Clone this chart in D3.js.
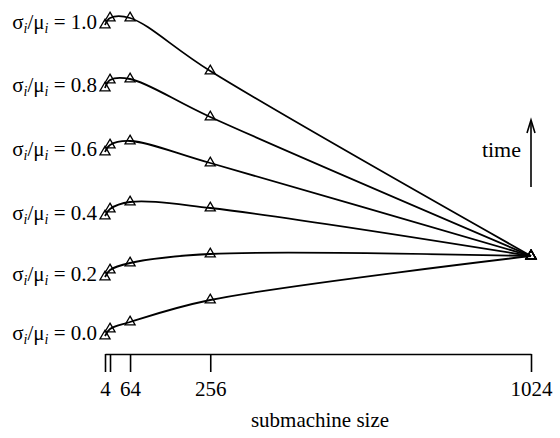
<!DOCTYPE html>
<html>
<head>
<meta charset="utf-8">
<script src="https://cdn.jsdelivr.net/npm/d3@7"></script>
<style>
  body { margin: 0; background: #fff; }
</style>
</head>
<body>
<div id="chart"></div>
<script>
// submachine sizes where the points sit
var sizes = [4, 16, 64, 256, 1024];
var tickValues = [4, 16, 64, 256, 1024];
var tickLabels = ["4", "", "64", "256", "1024"];

// sigma_i / mu_i for each curve
var ratios = ["1.0", "0.8", "0.6", "0.4", "0.2", "0.0"];

// time (arbitrary units), one array per curve
var time_10 = [3.25, 3.32, 3.32, 2.79, 0.94];
var time_08 = [2.62, 2.70, 2.71, 2.33, 0.94];
var time_06 = [1.98, 2.05, 2.09, 1.87, 0.94];
var time_04 = [1.34, 1.41, 1.48, 1.42, 0.94];
var time_02 = [0.73, 0.80, 0.87, 0.96, 0.94];
var time_00 = [0.14, 0.21, 0.28, 0.50, 0.94];
var allTimes = [time_10, time_08, time_06, time_04, time_02, time_00];

var width = 560, height = 438;
var serif = "Liberation Serif";

var svg = d3.select("#chart")
    .append("svg")
    .attr("width", width)
    .attr("height", height)
    .attr("font-family", serif);

var x = d3.scaleLinear()
    .domain([4, 1024])
    .range([105, 531]);

var y = d3.scaleLinear()
    .domain([0, 3.4])
    .range([350, 10]);

var axisY = 354;

// x axis
var xAxis = d3.axisBottom(x)
    .tickValues(tickValues)
    .tickSize(18)
    .tickSizeOuter(0)
    .tickPadding(9)
    .tickFormat(function (d, i) { return tickLabels[i]; });

var gx = svg.append("g")
    .attr("transform", "translate(0," + axisY + ")")
    .call(xAxis)
    .attr("font-family", serif)
    .attr("font-size", 21);
gx.select(".domain").attr("stroke", "#000").attr("stroke-width", 1.6);
gx.selectAll(".tick line").attr("stroke", "#000").attr("stroke-width", 1.6);
gx.selectAll(".tick text").attr("fill", "#000");

svg.append("text")
    .attr("x", 320)
    .attr("y", 427)
    .attr("font-family", serif)
    .attr("font-size", 21)
    .attr("text-anchor", "middle")
    .text("submachine size");

// curves
var line = d3.line()
    .x(function (d) { return x(d.size); })
    .y(function (d) { return y(d.time); })
    .curve(d3.curveCatmullRom.alpha(0.5));

var series = allTimes.map(function (arr, k) {
    return {
        ratio: ratios[k],
        points: arr.map(function (t, i) { return { size: sizes[i], time: t }; })
    };
});

var grp = svg.append("g")
    .selectAll("g")
    .data(series)
    .enter().append("g");

grp.append("path")
    .attr("d", function (d) { return line(d.points); })
    .attr("fill", "none")
    .attr("stroke", "#000")
    .attr("stroke-width", 1.8);

grp.selectAll(".pt")
    .data(function (d) { return d.points; })
    .enter().append("path")
    .attr("class", "pt")
    .attr("transform", function (d) { return "translate(" + x(d.size) + "," + y(d.time) + ")"; })
    .attr("d", d3.symbol().type(d3.symbolTriangle).size(44))
    .attr("fill", "none")
    .attr("stroke", "#000")
    .attr("stroke-width", 1.3);

// curve labels: sigma_i / mu_i = r
var lab = grp.append("text")
    .attr("x", x(4) - 8)
    .attr("y", function (d) { return y(d.points[0].time) + 4; })
    .attr("font-family", serif)
    .attr("font-size", 21)
    .attr("text-anchor", "end");
lab.append("tspan").text("σ");
lab.append("tspan").attr("font-size", 14).attr("font-style", "italic").attr("dy", 4).text("i");
lab.append("tspan").attr("dy", -4).text("/μ");
lab.append("tspan").attr("font-size", 14).attr("font-style", "italic").attr("dy", 4).text("i");
lab.append("tspan").attr("dy", -4).text(function (d) { return " = " + d.ratio; });

// time arrow
svg.append("text")
    .attr("x", 521)
    .attr("y", 157)
    .attr("font-family", serif)
    .attr("font-size", 22)
    .attr("text-anchor", "end")
    .text("time");

svg.append("line")
    .attr("x1", 531).attr("y1", 187)
    .attr("x2", 531).attr("y2", 121)
    .attr("stroke", "#000")
    .attr("stroke-width", 1.6);
svg.append("path")
    .attr("d", "M527,133 L531,120 L535,133")
    .attr("fill", "none")
    .attr("stroke", "#000")
    .attr("stroke-width", 1.6);
</script>
</body>
</html>
